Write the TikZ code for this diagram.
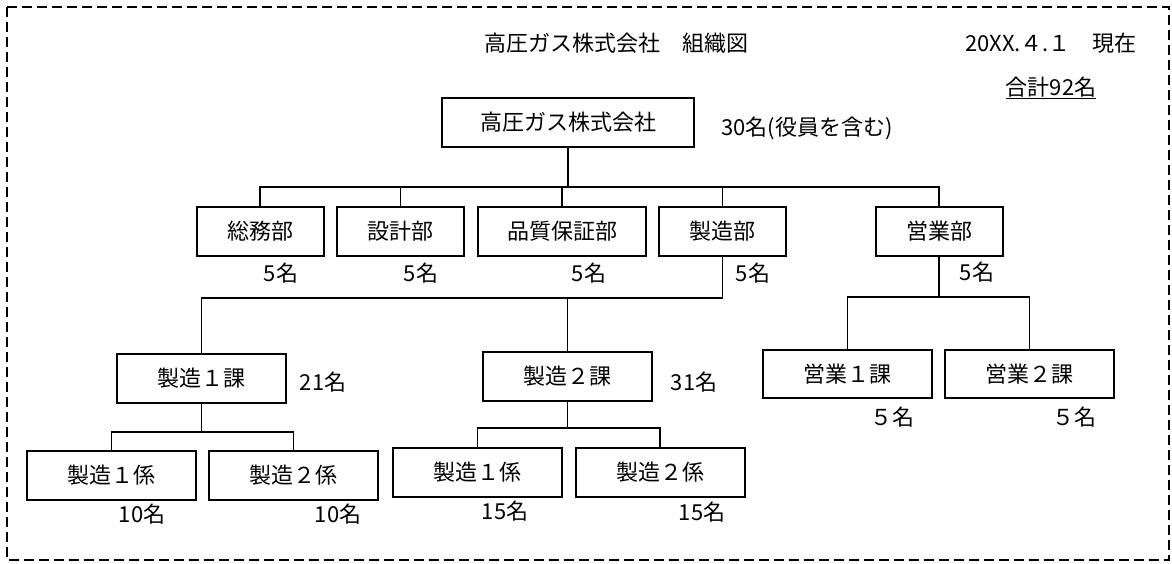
\documentclass[tikz,border=0pt]{standalone}
\usepackage{fontspec}
\setmainfont{Noto Sans CJK JP}
\usepackage{tikz}

\begin{document}
\begin{tikzpicture}[x=1pt, y=-1pt, node distance=140pt,
    every node/.style={font=\fontsize{22}{25}\selectfont, inner sep=0pt},
    unit/.style={draw, rectangle, line width=2pt, minimum height=49pt},
    wide/.style={unit, minimum width=169pt},
    dept/.style={unit, minimum width=127pt},
    link/.style={line width=1.8pt}]
    \useasboundingbox (0,0) rectangle (1172,563);
    \draw[line width=1.8pt, dash pattern=on 10pt off 5pt] (7,7) rectangle (1169,560);

    % heading
    \node (title) at (616,43) {高圧ガス株式会社　組織図};
    \node (date) at (1051,43) {20XX.４.１　現在};
    \node (total) at (1051,88) {\underline{合計92名}};

    % company
    \node[unit, minimum width=252pt] (company) at (568,122) {高圧ガス株式会社};
    \node[anchor=west] (companyn) at (721,128) {30名(役員を含む)};

    % departments
    \node[dept] (somu) at (260,231.5) {総務部};
    \node[dept, right of=somu, node distance=140.5pt] (sekkei) {設計部};
    \node[unit, minimum width=168pt, right of=sekkei, node distance=161.5pt] (hinshitsu) {品質保証部};
    \node[dept, right of=hinshitsu, node distance=160.5pt] (seizo) {製造部};
    \node[dept, right of=seizo, node distance=216.5pt] (eigyo) {営業部};
    \node (somun) at (281,273) {5名};
    \node (sekkein) at (421,273) {5名};
    \node (hinshitsun) at (589,273) {5名};
    \node (seizon) at (753,273) {5名};
    \node (eigyon) at (977,272) {5名};

    % sections
    \node[wide] (ka1) at (201.5,378.5) {製造１課};
    \node[wide] (ka2) at (567.5,376.5) {製造２課};
    \node[wide, minimum height=48pt] (eka1) at (847.5,374) {営業１課};
    \node[wide, minimum height=48pt, right of=eka1, node distance=182pt] (eka2) {営業２課};
    \node (ka1n) at (323,382) {21名};
    \node (ka2n) at (694,382) {31名};
    \node (eka1n) at (892,417) {５名};
    \node (eka2n) at (1074,417) {５名};

    % groups
    \node[wide] (kakari11) at (111.5,475.5) {製造１係};
    \node[wide, right of=kakari11, node distance=182pt] (kakari12) {製造２係};
    \node[wide] (kakari21) at (477.5,472.5) {製造１係};
    \node[wide, right of=kakari21, node distance=182.5pt] (kakari22) {製造２係};
    \node (kakari11n) at (142,514) {10名};
    \node (kakari12n) at (338,514) {10名};
    \node (kakari21n) at (505,511) {15名};
    \node (kakari22n) at (702,512) {15名};

    % lines
    \coordinate (bus) at (568,187);
    \draw[link] (company) -- (bus);
    \draw[link] (somu.north) |- (bus) -| (eigyo.north);
    \foreach \n in {sekkei, hinshitsu, seizo}
        \draw[link] (\n.north) -- (\n.north |- bus);
    \draw[link] (seizo.south) -- ++(0,41) coordinate (seizobus);
    \draw[link] (ka1.north) |- (seizobus);
    \draw[link] (ka2.north) -- (ka2.north |- seizobus);
    \draw[link] (eigyo.south) -- ++(0,40) coordinate (eigyobus);
    \draw[link] (eka1.north) |- (eigyobus) -| (eka2.north);
    \draw[link] (ka1.south) -- ++(0,28) coordinate (kabus1);
    \draw[link] (kakari11.north) |- (kabus1) -| (kakari12.north);
    \draw[link] (ka2.south) -- ++(0,26) coordinate (kabus2);
    \draw[link] (kakari21.north) |- (kabus2) -| (kakari22.north);
\end{tikzpicture}
\end{document}
